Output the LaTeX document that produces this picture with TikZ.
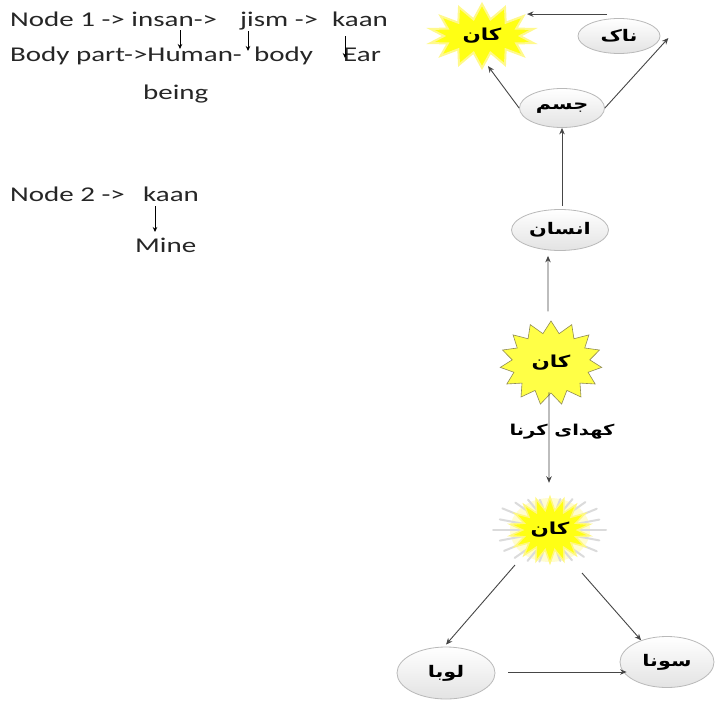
\documentclass[tikz,border=0pt]{standalone}
\usepackage{fontspec}
\setmainfont{Carlito}
\newfontfamily\arabicfont[Script=Arabic]{DejaVu Sans}
\TeXXeTstate=1
\usetikzlibrary{shapes.geometric,shapes.symbols,arrows.meta}
% wide-set Latin and Urdu text
\newcommand\widetxt[1]{\scalebox{1.38}[1]{#1}}
\newcommand\urdu[1]{\scalebox{1.3}[1]{\arabicfont\bfseries\beginR #1\endR}}
\definecolor{burstyellow}{RGB}{255,255,20}
\definecolor{burstyellowb}{RGB}{255,255,70}
\definecolor{linegray}{RGB}{70,70,70}
\tikzset{
  ltext/.style={anchor=base west, inner sep=0pt, text=black!85,
                font=\fontsize{21}{25}\selectfont},
  smallarr/.style={draw=black, line width=0.8pt, -{Stealth[length=5pt,width=4.5pt]}},
  arr/.style={draw=linegray, line width=0.9pt, -{Stealth[length=6.5pt,width=5.5pt]}},
  oval/.style={ellipse, draw=gray!55, line width=0.8pt, top color=white,
               bottom color=gray!22, inner sep=0pt,
               font=\fontsize{16}{18}\selectfont},
  burst/.style={starburst, random starburst=0, inner sep=0pt,
                font=\fontsize{16.5}{18}\selectfont},
  edgelabel/.style={inner sep=0pt, font=\fontsize{15}{18}\selectfont}
}
\begin{document}
\begin{tikzpicture}[x=1pt,y=-1pt]
\useasboundingbox[fill=white] (0,0) rectangle (715,704);

% ---- left: text notes ----
\node[ltext] (n1a) at (10,27) {\widetxt{Node 1 -> insan->}};
\node[ltext] (n1b) at (240,27) {\widetxt{jism ->}};
\node[ltext] (n1c) at (332,27) {\widetxt{kaan}};
\node[ltext] (n1d) at (10,61) {\widetxt{Body part->Human-}};
\node[ltext] (n1e) at (254,61) {\widetxt{body}};
\node[ltext] (n1f) at (343,61) {\widetxt{Ear}};
\node[ltext] (n1g) at (143,99) {\widetxt{being}};
\node[ltext] (n2a) at (10,201) {\widetxt{Node 2 ->}};
\node[ltext] (n2b) at (143,201) {\widetxt{kaan}};
\node[ltext] (n2c) at (135,252) {\widetxt{Mine}};

\coordinate (p1s) at (180,30);  \coordinate (p1e) at (180,49);
\coordinate (p2s) at (248,31);  \coordinate (p2e) at (248,51);
\coordinate (p3s) at (345,36);  \coordinate (p3e) at (345,58);
\coordinate (p4s) at (155,206); \coordinate (p4e) at (155,232);
\draw[smallarr] (p1s) -- (p1e);
\draw[smallarr] (p2s) -- (p2e);
\draw[smallarr] (p3s) -- (p3e);
\draw[smallarr] (p4s) -- (p4e);

% ---- right: graph ----
% top burst
\node[burst, starburst points=14, starburst point height=15pt,
      minimum width=106pt, minimum height=64pt,
      fill=burstyellow, draw=yellow!45, line width=2pt]
      (kan1) at (482,36) {\urdu{کان}};
\node[oval, minimum width=82pt, minimum height=35pt] (naak) at (619,36) {\urdu{ناک}};
\node[oval, minimum width=85pt, minimum height=39pt] (jism) at (562,108) {\urdu{جسم}};
\node[oval, minimum width=97pt, minimum height=41pt] (insaan) at (560,230) {\urdu{انسان}};

% middle burst
\node[burst, starburst points=15, starburst point height=12pt,
      minimum width=102pt, minimum height=84pt,
      fill=burstyellowb, draw=gray!60!olive, line width=0.6pt]
      (kan2) at (551,363) {\urdu{کان}};

% glowing burst: soft rays behind a yellow core
\fill[yellow!30, opacity=0.6] (550,530) ellipse (40 and 32);
\foreach \a/\r in {0/56,15/51,30/54,45/48,60/44,75/40,90/38,105/41,120/45,
                   135/50,150/53,165/52,180/57,195/52,210/55,225/49,
                   240/44,255/39,270/38,285/40,300/45,315/50,330/54,345/51}
  \draw[line width=2pt, line cap=round, gray!28]
    (550,530) ++(\a:28 and 24) -- ++(\a:{\r-28} and {\r*0.75-22});
\node[burst, starburst points=18, starburst point height=13pt,
      minimum width=62pt, minimum height=66pt,
      fill=burstyellow, draw=yellow!50, line width=1.5pt]
      (kan3) at (550,530) {\urdu{کان}};

\node[oval, minimum width=98pt, minimum height=52pt] (loba) at (446,673) {\urdu{لوبا}};
\node[oval, minimum width=94pt, minimum height=51pt] (sona) at (667,662) {\urdu{سونا}};

% connectors
\draw[arr] ([xshift=-12pt,yshift=4pt]naak.north)
        -- ([xshift=-92pt,yshift=4pt]naak.north);
\draw[arr] (jism.west) -- ([xshift=6pt,yshift=4pt]kan1.south);
\draw[arr] (jism.east) -- ([xshift=8pt,yshift=-2pt]naak.east);
\draw[arr] ([yshift=3pt]insaan.north -| jism.south) -- (jism.south);
\draw[arr] ([xshift=-3pt,yshift=9pt]kan2.north)
        -- ([xshift=-12pt,yshift=-5pt]insaan.south);
\draw[arr] ([xshift=-2pt,yshift=1pt]kan2.south)
        -- node[edgelabel, pos=0.36, xshift=13pt, yshift=-7pt] (lbl) {\urdu{کهدای کرنا}}
           ([xshift=-1pt,yshift=12pt]kan3.north);
\draw[arr] ([xshift=-35pt,yshift=-35pt]kan3.center) -- ([yshift=2pt]loba.north);
\draw[arr] ([xshift=32pt,yshift=-43pt]kan3.center) -- (sona.140);
\draw[arr] ([xshift=13pt,yshift=1pt]loba.east)
        -- ([xshift=7pt,yshift=1pt]loba.east -| sona.west);
\end{tikzpicture}
\end{document}
